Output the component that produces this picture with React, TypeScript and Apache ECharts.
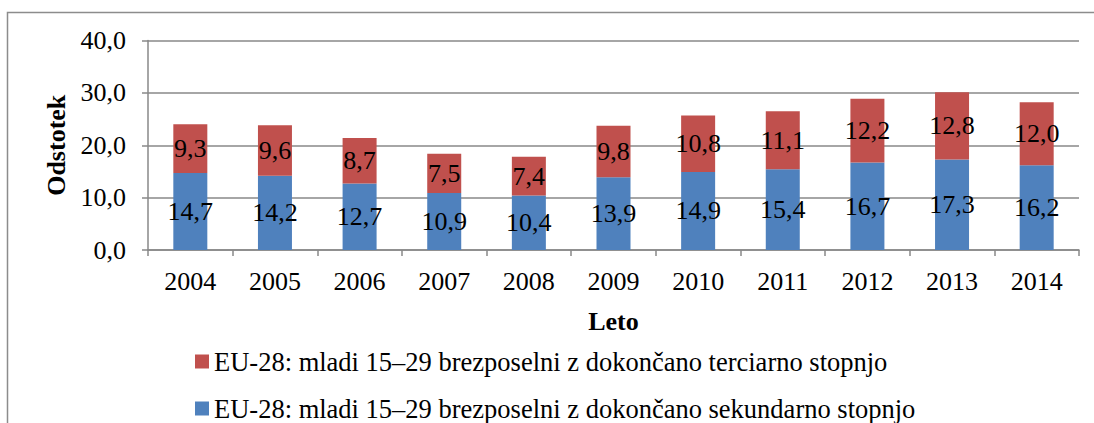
import React, { useEffect, useRef } from "react";
import * as echarts from "echarts";

const years = ["2004", "2005", "2006", "2007", "2008", "2009", "2010", "2011", "2012", "2013", "2014"];
const secondary = [14.7, 14.2, 12.7, 10.9, 10.4, 13.9, 14.9, 15.4, 16.7, 17.3, 16.2];
const tertiary = [9.3, 9.6, 8.7, 7.5, 7.4, 9.8, 10.8, 11.1, 12.2, 12.8, 12.0];
const nameTertiary = "EU-28: mladi 15–29 brezposelni z dokončano terciarno stopnjo";
const nameSecondary = "EU-28: mladi 15–29 brezposelni z dokončano sekundarno stopnjo";

const FONT = "Liberation Serif";
const FS = 26;
const fmt = (v: number) => v.toFixed(1).replace(".", ",");

export default function App() {
  const ref = useRef<HTMLDivElement>(null);
  useEffect(() => {
    if (!ref.current) return;
    const chart = echarts.init(ref.current, null, { renderer: "svg" });
    const labelStyle = {
      show: true,
      position: "inside" as const,
      color: "#000",
      fontFamily: FONT,
      fontSize: FS,
      formatter: (p: any) => fmt(p.value),
    };
    const legendCommon = {
      orient: "horizontal" as const,
      left: 190,
      padding: [0, 5, 0, 5],
      itemWidth: 14,
      itemHeight: 14,
      icon: "rect",
      textStyle: { fontFamily: FONT, fontSize: 26.5, color: "#000", lineHeight: 24 },
    };
    chart.setOption({
      animation: false,
      backgroundColor: "#fff",
      textStyle: { fontFamily: FONT },
      graphic: [
        {
          type: "rect",
          shape: { x: 7.5, y: 12.5, width: 1200, height: 600 },
          style: { fill: "none", stroke: "#8c8c8c", lineWidth: 1.5 },
          silent: true,
          z: -10,
        },
      ],
      grid: { left: 148, right: 15, top: 40.5, bottom: 173, containLabel: false },
      legend: [
        { ...legendCommon, top: 348, data: [nameTertiary] },
        { ...legendCommon, top: 395, data: [nameSecondary] },
      ],
      xAxis: {
        type: "category",
        data: years,
        name: "Leto",
        nameLocation: "middle",
        nameGap: 58,
        nameTextStyle: { fontFamily: FONT, fontSize: FS, fontWeight: "bold", color: "#000" },
        axisLine: { lineStyle: { color: "#888", width: 1.5 } },
        axisTick: { show: true, length: 6, lineStyle: { color: "#888", width: 1.5 } },
        axisLabel: { fontFamily: FONT, fontSize: FS, color: "#000", margin: 18 },
      },
      yAxis: {
        type: "value",
        min: 0,
        max: 40,
        interval: 10,
        name: "Odstotek",
        nameLocation: "middle",
        nameGap: 78,
        nameRotate: 90,
        nameTextStyle: { fontFamily: FONT, fontSize: FS, fontWeight: "bold", color: "#000" },
        axisLine: { show: true, lineStyle: { color: "#888", width: 1.5 } },
        axisTick: { show: true, length: 6, lineStyle: { color: "#888", width: 1.5 } },
        splitLine: { lineStyle: { color: "#888", width: 1.5 } },
        axisLabel: {
          fontFamily: FONT,
          fontSize: FS,
          color: "#000",
          margin: 22,
          formatter: (v: number) => fmt(v),
        },
      },
      series: [
        {
          name: nameSecondary,
          type: "bar",
          stack: "total",
          data: secondary,
          barWidth: 34,
          itemStyle: { color: "#4F81BD" },
          label: labelStyle,
        },
        {
          name: nameTertiary,
          type: "bar",
          stack: "total",
          data: tertiary,
          barWidth: 34,
          itemStyle: { color: "#C0504D" },
          label: labelStyle,
        },
      ],
    });
    return () => chart.dispose();
  }, []);
  return (
    <div
      ref={ref}
      style={{ position: "absolute", left: 0, top: 0, width: 1094, height: 423 }}
    />
  );
}
